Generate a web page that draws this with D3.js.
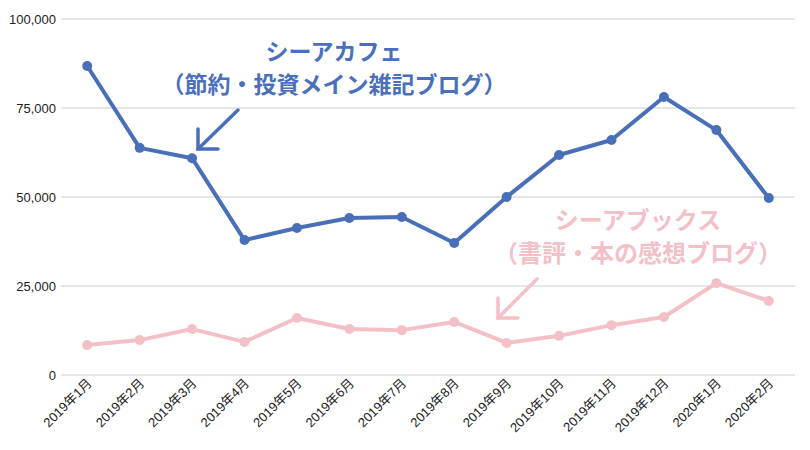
<!DOCTYPE html>
<html><head><meta charset="utf-8">
<script src="https://cdn.jsdelivr.net/npm/d3@7"></script>
<style>body{margin:0;background:#fff}svg{display:block}</style>
</head><body>
<svg id="c" width="810" height="450"></svg>
<script>
const categories = ["2019年1月","2019年2月","2019年3月","2019年4月","2019年5月","2019年6月","2019年7月","2019年8月","2019年9月","2019年10月","2019年11月","2019年12月","2020年1月","2020年2月"];
const cafeValues = [86800,63800,60900,37900,41300,44100,44400,37100,50000,61800,66000,78100,68800,49700];
const booksValues = [8400,9800,12900,9300,16000,12900,12600,14900,9000,11000,14000,16300,25800,20800];
const yTicks = [0,25000,50000,75000,100000];
const cafeLabel = ["シーアカフェ","（節約・投資メイン雑記ブログ）"];
const booksLabel = ["シーアブックス","（書評・本の感想ブログ）"];

const svg = d3.select("#c");
const L = 61, R = 795, T = 19, B = 375;
const x = d3.scalePoint().domain(categories).range([L, R]).padding(0.5);
const y = d3.scaleLinear().domain([0, 100000]).range([B, T]);

// grid
svg.append("g").selectAll("line").data(yTicks).join("line")
  .attr("x1", L).attr("x2", R).attr("y1", d => y(d)).attr("y2", d => y(d))
  .attr("stroke", "#cccccc").attr("stroke-width", 1);

// y axis
const ya = svg.append("g").attr("transform", `translate(${L},0)`)
  .call(d3.axisLeft(y).tickValues(yTicks).tickSize(0).tickPadding(5).tickFormat(d3.format(",")));
ya.select(".domain").remove();
ya.selectAll("text").attr("font-family", "Liberation Sans, Arial, sans-serif").attr("font-size", 13).attr("fill", "#222");

// x axis
const xa = svg.append("g").attr("transform", `translate(0,${B})`)
  .call(d3.axisBottom(x).tickSize(0).tickPadding(0));
xa.select(".domain").remove();
xa.selectAll("text").attr("font-family", "Liberation Sans, 'Noto Sans CJK JP', sans-serif").attr("font-size", 13).attr("fill", "#222")
  .attr("text-anchor", "end").attr("dy", 0)
  .attr("transform", d => `translate(${5},${9}) rotate(-45)`);

const line = d3.line().x((d, i) => x(categories[i])).y(d => y(d));
function series(vals, color) {
  svg.append("path").datum(vals).attr("d", line).attr("fill", "none")
    .attr("stroke", color).attr("stroke-width", 4).attr("stroke-linejoin", "round");
  svg.append("g").selectAll("circle").data(vals).join("circle")
    .attr("cx", (d, i) => x(categories[i])).attr("cy", d => y(d)).attr("r", 5).attr("fill", color);
}
const pink = "#f4c0c8", blue = "#4a6fb9";
series(booksValues, pink);
series(cafeValues, blue);

function label(lines, cx, y0, gap, size, color) {
  const t = svg.append("text").attr("text-anchor", "middle").attr("fill", color)
    .attr("font-family", "'Noto Sans CJK JP', sans-serif").attr("font-weight", 700).attr("font-size", size);
  lines.forEach((s, i) => t.append("tspan").attr("x", cx).attr("y", y0 + i * gap).text(s));
}
label(cafeLabel, 334, 60, 33, 23, "#4a6fbd");
label(booksLabel, 638, 229, 33, 24, "#f4c0c8");

function arrow(x1, y1, x2, y2, color) {
  const g = svg.append("g").attr("stroke", color).attr("stroke-width", 3.5).attr("stroke-linecap", "round").attr("fill", "none");
  g.append("line").attr("x1", x1).attr("y1", y1).attr("x2", x2).attr("y2", y2);
  g.append("path").attr("d", `M${x2},${y2 - 20}L${x2},${y2}L${x2 + 20},${y2}`).attr("stroke-linejoin", "miter");
}
arrow(238, 110, 198, 149, blue);
arrow(537, 279, 498, 318, pink);
</script>
</body></html>
